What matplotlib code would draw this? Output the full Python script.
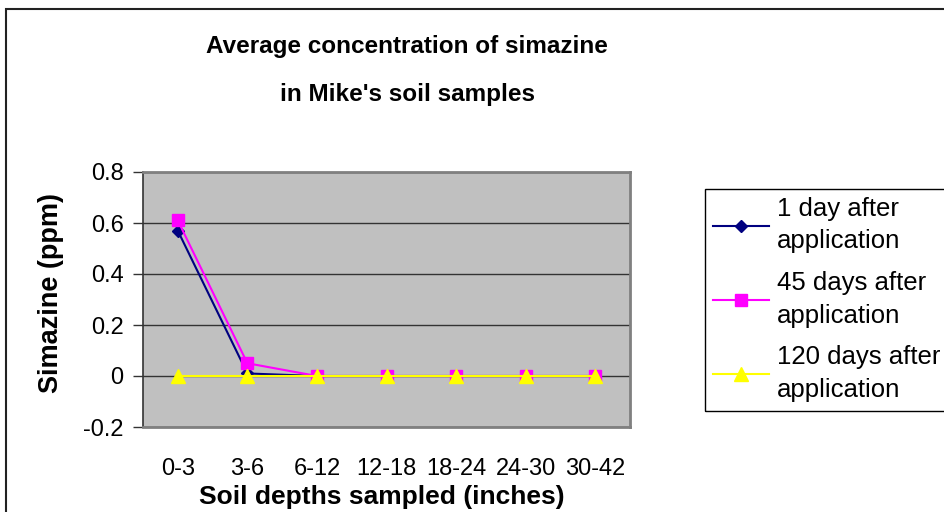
import matplotlib
matplotlib.use("Agg")
import matplotlib.pyplot as plt
from matplotlib.patches import Rectangle

plt.rcParams['font.family'] = ['Liberation Sans', 'DejaVu Sans']

# data
depths = ["0-3", "3-6", "6-12", "12-18", "18-24", "24-30", "30-42"]
day1 = [0.57, 0.01, 0.0, 0.0, 0.0, 0.0, 0.0]
day45 = [0.61, 0.05, 0.0, 0.0, 0.0, 0.0, 0.0]
day120 = [0.0, 0.0, 0.0, 0.0, 0.0, 0.0, 0.0]
series_labels = ["1 day after\napplication", "45 days after\napplication", "120 days after\napplication"]
y_ticks = [-0.2, 0, 0.2, 0.4, 0.6, 0.8]
y_tick_labels = ["-0.2", "0", "0.2", "0.4", "0.6", "0.8"]

W, H = 944, 512
fig = plt.figure(figsize=(W / 100, H / 100), dpi=100)
fig.patch.set_facecolor('white')

# outer chart frame (runs off right/bottom edges)
fig.patches.append(Rectangle((6 / W, -0.1), 1.2, 1 - 9 / H + 0.1, transform=fig.transFigure,
                             fill=False, edgecolor='#222222', linewidth=1.5))

ax = fig.add_axes([143 / W, 1 - 427 / H, (630 - 143) / W, (427 - 172) / H])
ax.set_facecolor('#C0C0C0')

x = list(range(len(depths)))
l1, = ax.plot(x, day1, color='#000080', marker='D', markersize=6.5, linewidth=1.5, zorder=3)
l2, = ax.plot(x, day45, color='#FF00FF', marker='s', markersize=8, linewidth=1.5, zorder=4)
l3, = ax.plot(x, day120, color='#FFFF00', marker='^', markersize=10, linewidth=1.5, zorder=5)

ax.set_xlim(-0.5, len(depths) - 0.5)
ax.set_ylim(-0.2, 0.8)
ax.set_yticks(y_ticks)
ax.set_yticklabels(y_tick_labels)
ax.set_xticks(x)
ax.set_xticklabels(depths)
ax.yaxis.grid(True, color='#333333', linewidth=1)
ax.set_axisbelow(True)
ax.tick_params(axis='y', direction='out', length=7, width=1, colors='#333333', labelcolor='black',
               labelsize=17, pad=7)
ax.tick_params(axis='x', length=0, labelsize=17, pad=22)
for s in ['top', 'right', 'bottom']:
    ax.spines[s].set_color('#808080')
    ax.spines[s].set_linewidth(2)
ax.spines['left'].set_color('#333333')
ax.spines['left'].set_linewidth(1.2)

fig.text(382 / W, 1 - 497 / H, "Soil depths sampled (inches)", ha='center', va='center',
         fontsize=19, fontweight='bold')
fig.text(51 / W, 1 - 293 / H, "Simazine (ppm)", ha='center', va='center', rotation=90,
         fontsize=19.5, fontweight='bold')

fig.text(407 / W, 1 - 47 / H, "Average concentration of simazine",
         ha='center', va='center', fontsize=17.5, fontweight='bold')
fig.text(407 / W, 1 - 95 / H, "in Mike's soil samples",
         ha='center', va='center', fontsize=17.5, fontweight='bold')

leg = fig.legend([l1, l2, l3], series_labels, loc='upper left',
                 bbox_to_anchor=(705 / W, 1 - 189 / H), frameon=False,
                 fontsize=18.5, handlelength=2.2, handletextpad=0.3, labelspacing=0.68,
                 borderpad=0.3, borderaxespad=0)
for t in leg.get_texts():
    t.set_linespacing(1.46)
fig.patches.append(Rectangle((705 / W, 1 - 411 / H), 0.5, (411 - 189) / H, transform=fig.transFigure,
                             fill=False, edgecolor='black', linewidth=1))

fig.savefig("out.png", dpi=100)
